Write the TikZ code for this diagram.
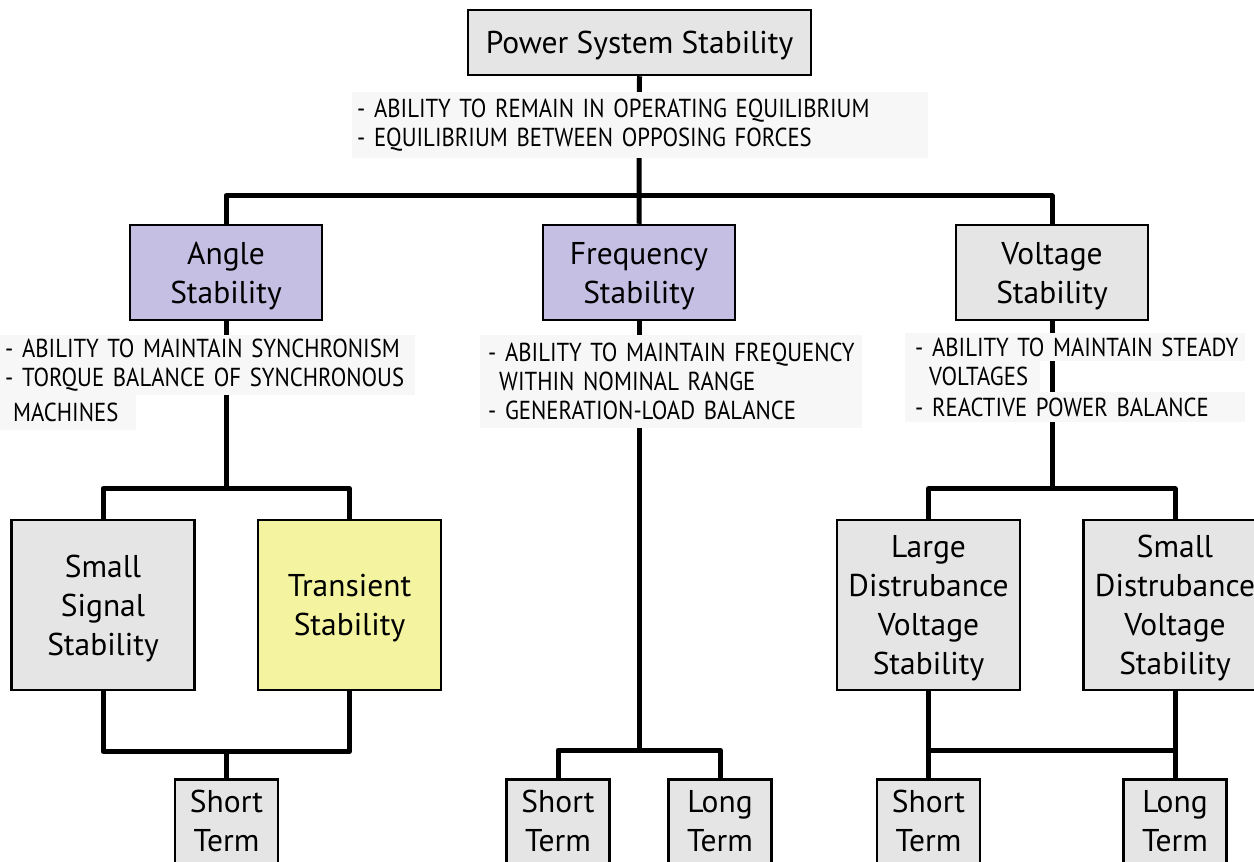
\documentclass[tikz,border=0pt]{standalone}
\usepackage{fontspec}
\setmainfont{PT Sans}
\newfontfamily\lblfont[FakeStretch=0.875]{PT Sans}
\usetikzlibrary{backgrounds}
\definecolor{boxgray}{HTML}{E5E5E5}
\definecolor{lav}{HTML}{C5BFE4}
\definecolor{pale}{HTML}{F4F4A0}
\definecolor{lblbg}{HTML}{F7F7F7}
\begin{document}
\begin{tikzpicture}[x=1pt,y=-1pt,
  box/.style={draw=black, line width=2.5pt, fill=boxgray, align=center, inner sep=0pt,
              text depth=0pt, font=\fontsize{31.5}{39}\selectfont},
  wide/.style={minimum width=192, minimum height=95},
  tall/.style={minimum width=183, minimum height=170},
  term/.style={minimum width=103, minimum height=92, text depth=8pt, anchor=north},
  link/.style={line width=5pt, line join=round},
  lbl/.style={fill=lblbg, align=left, anchor=north west, inner ysep=0pt, inner xsep=5pt,
              font=\lblfont\fontsize{26}{29}\selectfont}]
\useasboundingbox (0,0) rectangle (1254,862);

% category boxes
\node[box, minimum width=343, minimum height=65] (pss) at (639.5,42.5) {Power System Stability};
\node[box, wide, fill=lav] (ang) at (226,272.5) {Angle\\Stability};
\node[box, wide, fill=lav] (frq) at (639,272.5) {Frequency\\Stability};
\node[box, wide] (vol) at (1052,272.5) {Voltage\\Stability};

\node[box, tall] (sss) at (103,605) {Small\\Signal\\Stability};
\node[box, tall, fill=pale] (ts) at (349.5,605) {Transient\\Stability};
\node[box, tall] (ldv) at (928.5,605) {Large\\Distrubance\\Voltage\\Stability};
\node[box, tall] (sdv) at (1175,605) {Small\\Distrubance\\Voltage\\Stability};

% the term boxes run on past the lower edge of the page
\node[box, term] (ast) at (226.5,778) {Short\\Term};
\node[box, term] (fst) at (558,778) {Short\\Term};
\node[box, term] (flt) at (720,778) {Long\\Term};
\node[box, term] (vst) at (928.5,778) {Short\\Term};
\node[box, term] (vlt) at (1175,778) {Long\\Term};

\coordinate (jA) at (226,490);
\coordinate (jF) at (639,750);
\coordinate (jV) at (1052,490);
\coordinate (busV) at (0,750);

% connectors, kept underneath the boxes and the description strips
\begin{pgfonlayer}{background}
  \draw[link] (pss.south) -- (frq.north);
  \draw[link] (ang.north) -- ++(0,-28) -| (vol.north);

  \draw[link] (ang.south) -- (jA);
  \draw[link] (sss.north) -- ++(0,-30) -| (ts.north);
  \draw[link] (sss.south) -- ++(0,60) -| (ts.south);
  \draw[link] (ast.north) -- ++(0,-28);

  \draw[link] (frq.south) -- (jF);
  \draw[link] (fst.north) -- ++(0,-28) -| (flt.north);

  \draw[link] (vol.south) -- (jV);
  \draw[link] (ldv.north) -- ++(0,-30) -| (sdv.north);
  \draw[link] (ldv.south) -- (vst.north);
  \draw[link] (sdv.south) -- (vlt.north);
  \draw[link] (ldv.south |- busV) -- (sdv.south |- busV);
\end{pgfonlayer}

% description strips
\node[lbl, text width=566, minimum height=66] (dpss) at (352,92)
  {- ABILITY TO REMAIN IN OPERATING EQUILIBRIUM\\- EQUILIBRIUM BETWEEN OPPOSING FORCES};

\node[lbl, text width=405, minimum height=60] (dang) at (0,335)
  {- ABILITY TO MAINTAIN SYNCHRONISM\\- TORQUE BALANCE OF SYNCHRONOUS};
\node[lbl, text width=126, minimum height=35] (dang2) at (0,395)
  {\hspace*{8pt}MACHINES};

\node[lbl, text width=372, minimum height=93] (dfrq) at (480,335)
  {\hspace*{3pt}- ABILITY TO MAINTAIN FREQUENCY\\\hspace*{14pt}WITHIN NOMINAL RANGE\\\hspace*{3pt}- GENERATION-LOAD BALANCE};

\node[lbl, text width=330, minimum height=28] (dvol) at (905,333)
  {\hspace*{5pt}- ABILITY TO MAINTAIN STEADY};
\node[lbl, text width=125, minimum height=31] (dvol2) at (905,361)
  {\hspace*{19pt}VOLTAGES};
\node[lbl, text width=330, minimum height=30] (dvol3) at (905,392)
  {\hspace*{5pt}- REACTIVE POWER BALANCE};
\end{tikzpicture}
\end{document}
